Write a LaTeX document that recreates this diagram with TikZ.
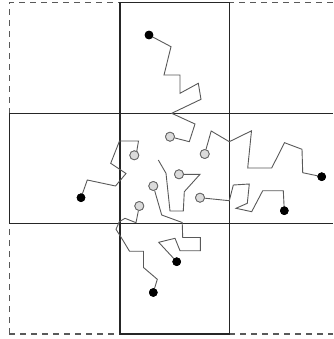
\documentclass[tikz,border=0pt]{standalone}
\begin{document}
\begin{tikzpicture}[x=1pt,y=-1pt,
  gridline/.style={draw=black!85,line width=1.4pt},
  dashline/.style={draw=black!65,line width=1.4pt,dash pattern=on 6pt off 5pt},
  walk/.style={draw=black!65,line width=0.9pt,line join=miter},
  ghost/.style={circle,inner sep=0pt,minimum size=9pt,fill=black!14,draw=black!60,line width=0.8pt},
  dot/.style={circle,inner sep=0pt,minimum size=8.6pt,fill=black}]
\useasboundingbox (0,0) rectangle (333,339);
% dashed outer border
\draw[dashline] (9.3,334) -- (9.3,2.7) -- (333,2.7);
\draw[dashline] (9.3,334) -- (333,334);
% solid cross
\draw[gridline] (120,2.7) rectangle (229.3,334);
\draw[gridline] (9.3,113.3) -- (333,113.3);
\draw[gridline] (9.3,223.3) -- (333,223.3);
\draw[gridline] (9.3,113.3) -- (9.3,223.3);
% nodes
\node[dot] (b1) at (149,35) {};
\node[ghost] (g1) at (170,136.7) {};
\node[dot] (b2) at (81,197.7) {};
\node[ghost] (g2) at (134.3,155.3) {};
\node[dot] (b3) at (321.7,176.7) {};
\node[ghost] (g3) at (204.7,154) {};
\node[dot] (b4) at (284.3,210.7) {};
\node[ghost] (g4) at (200,197.7) {};
\node[ghost] (g5) at (179,174.3) {};
\coordinate (e5) at (158.3,160);
\node[ghost] (g6) at (153.3,186) {};
\node[dot] (b6) at (176.7,261.7) {};
\node[ghost] (g7) at (139.3,206) {};
\node[dot] (b7) at (153.3,292.5) {};
% walks
\draw[walk] (b1.center) -- (171,46.7) -- (164,75) -- (180,75) -- (180,93.3) -- (198.3,83.3) -- (201,99.3) -- (171.7,113.3) -- (195,124) -- (189.3,141.7) -- (g1);
\draw[walk] (b2.center) -- (87.3,180) -- (115.5,186) -- (126,173.5) -- (110.7,163.3) -- (119.5,141) -- (138.5,141) -- (136.7,151.7) -- (g2);
\draw[walk] (b3.center) -- (302.7,172.7) -- (302,149.3) -- (284.5,142.7) -- (271.7,168) -- (247.7,168) -- (251.5,130.8) -- (229.3,141.7) -- (211.2,131) -- (206,149.3) -- (g3);
\draw[walk] (b4.center) -- (283.3,190.7) -- (262.7,190.7) -- (251.7,211.7) -- (236,208.3) -- (247.3,203.3) -- (249.3,184) -- (233.3,185) -- (229.3,200.7) -- (g4);
\draw[walk] (g5) -- (200,174.3) -- (184.3,191.7) -- (183.3,211) -- (170,211) -- (166,173.3) -- (e5);
\draw[walk] (g6) -- (161.7,215) -- (182.2,222.5) -- (182.7,237.5) -- (200.3,237.5) -- (200.3,250.7) -- (180,250.7) -- (175,238.3) -- (158.7,242.3) -- (b6.center);
\draw[walk] (g7) -- (136,222.7) -- (125,218.3) -- (119.3,221.7) -- (116,229.3) -- (121.7,238.3) -- (129.5,251.2) -- (143.5,251.2) -- (143.5,267.5) -- (157.3,279.3) -- (b7.center);
% redraw node shapes on top
\foreach \n in {g1,g2,g3,g4,g5,g6,g7} \node[ghost] at (\n) {};
\foreach \n in {b1,b2,b3,b4,b6,b7} \node[dot] at (\n) {};
\end{tikzpicture}
\end{document}
